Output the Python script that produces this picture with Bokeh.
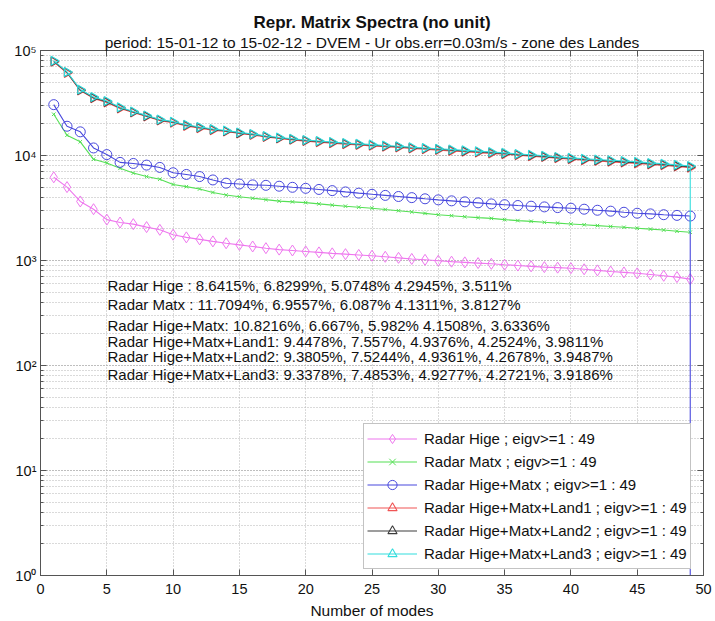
import numpy as np
from bokeh.plotting import figure
from bokeh.models import (LinearAxis, LogAxis, Title, Label, Legend, LegendItem,
                          CustomJSTickFormatter, SingleIntervalTicker, LogTicker, Range1d)
from bokeh.embed import file_html
from bokeh.resources import INLINE

# ---------------- data ----------------
modes = list(range(1, 50))

hige = [6200, 5000, 3650, 3080, 2450, 2300, 2220, 2080, 1960, 1760,
        1660, 1590, 1520, 1460, 1410, 1360, 1310, 1270, 1245, 1220,
        1195, 1170, 1150, 1130, 1110, 1085, 1060, 1035, 1015, 995,
        975, 960, 945, 930, 912, 895, 880, 865, 855, 845,
        825, 805, 785, 770, 755, 735, 715, 695, 665]

matx = [24700, 15600, 13500, 9200, 8500, 7550, 6800, 6300, 5950, 5300,
        5050, 4800, 4450, 4200, 4050, 3920, 3800, 3680, 3620, 3560,
        3460, 3370, 3290, 3220, 3150, 3060, 2980, 2900, 2810, 2730,
        2670, 2610, 2560, 2520, 2450, 2400, 2360, 2310, 2270, 2230,
        2190, 2150, 2110, 2070, 2030, 1990, 1950, 1900, 1860]

hige_matx = [30500, 19000, 16800, 11800, 10200, 8600, 8400, 8100, 7700, 6850,
             6600, 6300, 5850, 5450, 5350, 5250, 5200, 5100, 4980, 4870,
             4750, 4630, 4500, 4380, 4270, 4170, 4070, 3970, 3870, 3780,
             3700, 3620, 3540, 3460, 3400, 3340, 3290, 3240, 3190, 3150,
             3080, 3010, 2950, 2880, 2820, 2780, 2730, 2690, 2650]

land1 = [78000, 61000, 41500, 35000, 32000, 28000, 25700, 23500, 21500, 20500,
         19100, 18200, 17400, 16900, 16200, 15700, 15000, 14500, 14100, 13700,
         13400, 13100, 12800, 12600, 12350, 12100, 11900, 11650, 11450, 11250,
         11050, 10850, 10650, 10450, 10300, 10050, 9850, 9650, 9400, 9200,
         9000, 8850, 8700, 8550, 8400, 8200, 8050, 7850, 7650]

land2 = [79000, 62000, 42000, 35500, 32500, 28500, 26000, 23800, 21800, 20800,
         19400, 18500, 17700, 17100, 16400, 15900, 15200, 14700, 14300, 13900,
         13600, 13300, 13000, 12800, 12550, 12300, 12100, 11850, 11650, 11450,
         11250, 11050, 10850, 10650, 10450, 10200, 10000, 9800, 9550, 9350,
         9150, 9000, 8850, 8700, 8550, 8350, 8200, 8000, 7800]

land3 = [80000, 62500, 42500, 36000, 33000, 28800, 26300, 24100, 22000, 21000,
         19600, 18700, 17900, 17300, 16600, 16050, 15350, 14850, 14450, 14050,
         13750, 13450, 13150, 12950, 12700, 12450, 12250, 12000, 11800, 11600,
         11400, 11200, 11000, 10800, 10600, 10350, 10150, 9950, 9700, 9500,
         9300, 9150, 9000, 8850, 8700, 8500, 8350, 8150, 7950]

# last value of some curves (drawn at the last mode), giving the vertical drops
tail_hige_matx = 0.01
tail_land3 = 1860

series_names = ["Radar Hige", "Radar Matx", "Radar Hige+Matx",
                "Radar Hige+Matx+Land1", "Radar Hige+Matx+Land2", "Radar Hige+Matx+Land3"]
eig_count = 49

annotations = [
    "Radar Hige : 8.6415%, 6.8299%, 5.0748%  4.2945%, 3.511%",
    "Radar Matx : 11.7094%, 6.9557%, 6.087%  4.1311%, 3.8127%",
    "Radar Hige+Matx: 10.8216%, 6.667%, 5.982%  4.1508%, 3.6336%",
    "Radar Hige+Matx+Land1: 9.4478%, 7.557%, 4.9376%, 4.2524%, 3.9811%",
    "Radar Hige+Matx+Land2: 9.3805%, 7.5244%, 4.9361%, 4.2678%, 3.9487%",
    "Radar Hige+Matx+Land3: 9.3378%, 7.4853%, 4.9277%, 4.2721%, 3.9186%",
]
annotation_y = [583, 377, 243, 168, 121, 81.4]
annotation_x = 5.05

title_text = "Repr. Matrix Spectra (no unit)"
subtitle_text = "period: 15-01-12 to 15-02-12 - DVEM - Ur obs.err=0.03m/s - zone des Landes"
xlabel = "Number of modes"

FONT = "Liberation Sans"

# ---------------- figure ----------------
p = figure(width=715, height=621, x_range=Range1d(0, 50), y_range=Range1d(1, 1e5),
           y_axis_type="log", output_backend="svg", toolbar_location=None,
           min_border_left=40, min_border_right=12, min_border_top=50, min_border_bottom=45)
p.background_fill_color = "white"
p.border_fill_color = "white"
p.outline_line_color = "#555555"
p.outline_line_width = 1

grid_col = "#b4b4b4"
p.xgrid.grid_line_color = grid_col
p.xgrid.grid_line_dash = "1 2"
p.ygrid.grid_line_color = grid_col
p.ygrid.grid_line_dash = "1 2"
p.ygrid.minor_grid_line_color = grid_col
p.ygrid.minor_grid_line_dash = "1 2"

sup = CustomJSTickFormatter(code="""
const s = {"0":"\u2070","1":"\u00b9","2":"\u00b2","3":"\u00b3","4":"\u2074","5":"\u2075",
           "6":"\u2076","7":"\u2077","8":"\u2078","9":"\u2079"};
const e = Math.round(Math.log10(tick));
return "10" + String(e).split("").map(c => s[c]).join("");
""")

xticker = SingleIntervalTicker(interval=5, num_minor_ticks=0)
p.xaxis.ticker = xticker
p.xgrid.ticker = xticker
p.yaxis.formatter = sup

for ax in (p.xaxis[0], p.yaxis[0]):
    ax.axis_line_color = "#555555"
    ax.major_tick_line_color = "#555555"
    ax.minor_tick_line_color = "#555555"
    ax.major_tick_in = 6
    ax.major_tick_out = 0
    ax.minor_tick_in = 3
    ax.minor_tick_out = 0
    ax.major_label_text_font = FONT
    ax.major_label_text_font_size = "14.5px"
    ax.major_label_text_color = "#111111"
    ax.major_label_standoff = 8
p.yaxis.major_label_standoff = 4

p.xaxis.axis_label = xlabel
p.xaxis.axis_label_text_font = FONT
p.xaxis.axis_label_text_font_size = "15.5px"
p.xaxis.axis_label_text_font_style = "normal"
p.xaxis.axis_label_text_color = "#111111"
p.xaxis.axis_label_standoff = 5

blank = CustomJSTickFormatter(code="return '';")
rax = LogAxis(ticker=LogTicker(), formatter=blank, major_tick_in=6, major_tick_out=0,
              minor_tick_in=3, minor_tick_out=0, axis_line_color=None,
              major_tick_line_color="#555555", minor_tick_line_color="#555555",
              major_label_standoff=0)
p.add_layout(rax, "right")
tax = LinearAxis(ticker=xticker, formatter=blank, major_tick_in=6, major_tick_out=0,
                 minor_tick_out=0, axis_line_color=None,
                 major_tick_line_color="#555555", major_label_standoff=0)
p.add_layout(tax, "above")

p.add_layout(Title(text=subtitle_text, align="center", text_font=FONT,
                   text_font_size="15.5px", text_font_style="normal",
                   text_color="#111111", standoff=0), "above")
p.add_layout(Title(text=title_text, align="center", text_font=FONT,
                   text_font_size="17px", text_font_style="bold",
                   text_color="#111111", standoff=0), "above")

colors = ["#ee77ee", "#55e055", "#4848dd", "#f05555", "#3c3c3c", "#33dddd"]
data = [hige, matx, hige_matx, land1, land2, land3]
tails = [None, None, tail_hige_matx, None, None, tail_land3]
items = []
for name, ys, col, tail in zip(series_names, data, colors, tails):
    xs = list(modes)
    yl = list(ys)
    if tail is not None:
        xs = xs + [modes[-1]]
        yl = yl + [tail]
    ln = p.line(xs, yl, line_color=col, line_width=1.1)
    if name == "Radar Hige":
        mk = p.scatter(modes, ys, marker="diamond", size=11, line_color=col,
                       fill_color=None, line_width=1)
    elif name == "Radar Matx":
        mk = p.scatter(modes, ys, marker="x", size=5, line_color=col, line_width=1)
    elif name == "Radar Hige+Matx":
        mk = p.scatter(modes, ys, marker="circle", size=10, line_color=col,
                       fill_color=None, line_width=1)
    else:
        mk = p.scatter(modes, ys, marker="triangle", size=9, angle=-np.pi / 2,
                       line_color=col, fill_color=None, line_width=1.1)
    items.append(LegendItem(label=f"{name} ; eigv>=1 : {eig_count}", renderers=[ln, mk]))

legend = Legend(items=items, location=(323, 6), orientation="vertical",
                label_text_font=FONT, label_text_font_size="15px", label_text_color="#111111",
                glyph_width=50, glyph_height=23, label_height=23, spacing=0,
                padding=3, margin=0, label_standoff=7,
                border_line_color="#888888", border_line_width=1,
                background_fill_color="white", background_fill_alpha=1.0)
p.add_layout(legend)

for txt, yv in zip(annotations, annotation_y):
    p.add_layout(Label(x=annotation_x, y=yv, text=txt, text_baseline="middle",
                       text_font=FONT, text_font_size="15px", text_color="#111111"))

open("out.html", "w").write(file_html(p, INLINE))
